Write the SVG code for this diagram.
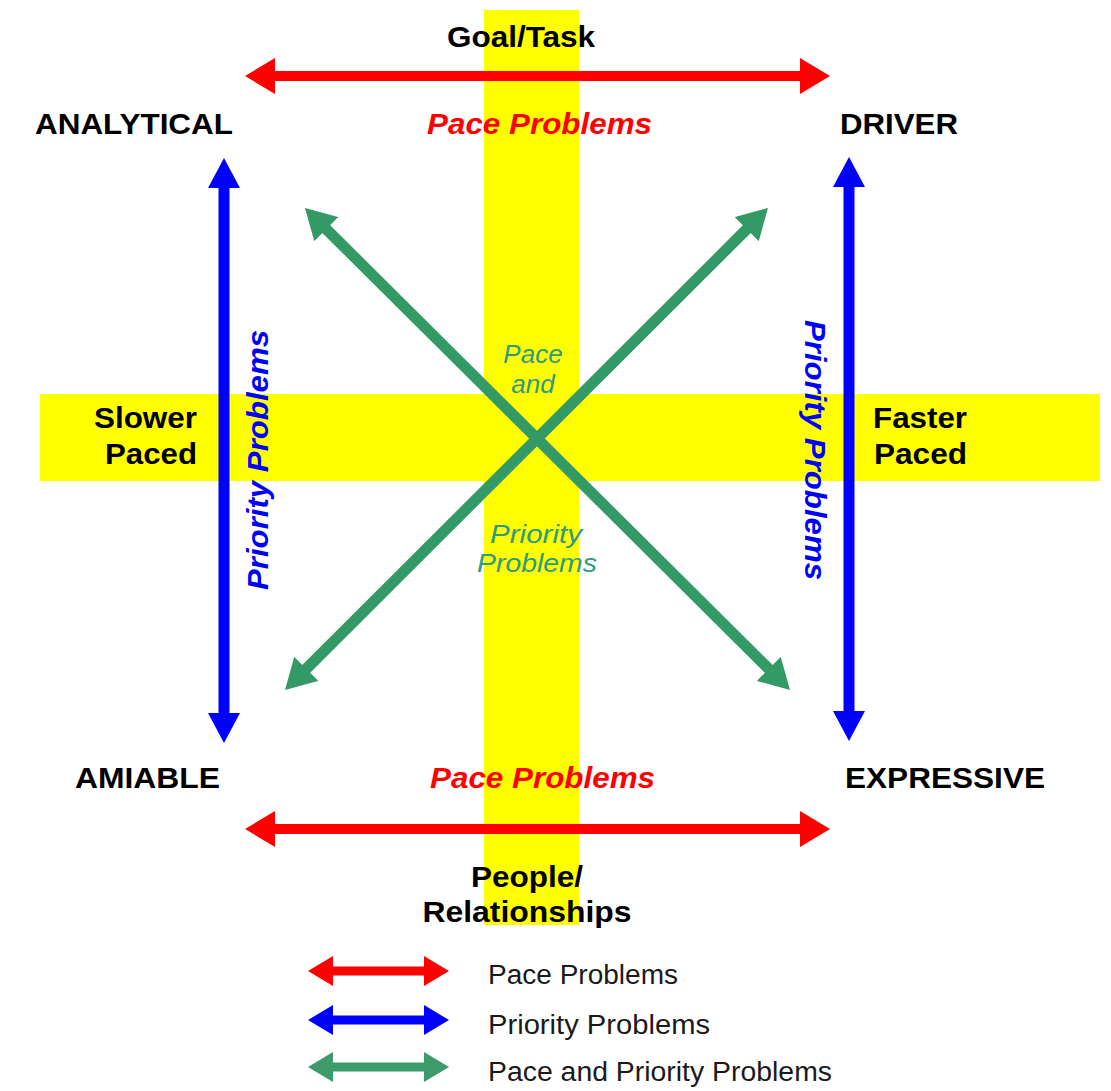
<svg xmlns="http://www.w3.org/2000/svg" width="1111" height="1091" viewBox="0 0 1111 1091">
  <style>
    .lbl { font-family: "Liberation Sans", Arial, sans-serif; font-weight: bold; font-size: 30px; fill: #000; }
    .pace { font-family: "Liberation Sans", Arial, sans-serif; font-weight: bold; font-style: italic; font-size: 30px; fill: #ff0000; }
    .prio { font-family: "Liberation Sans", Arial, sans-serif; font-weight: bold; font-style: italic; font-size: 30px; fill: #0000ff; }
    .both { font-family: "Liberation Sans", Arial, sans-serif; font-style: italic; font-size: 26px; fill: #2f9a80; }
    .leg { font-family: "Liberation Sans", Arial, sans-serif; font-size: 27px; fill: #1a1a1a; }
    .band { fill: #ffff00; }
    .red { stroke: #ff0000; stroke-width: 10; fill: none; }
    .blue { stroke: #0000ff; stroke-width: 11; fill: none; }
    .green { stroke: #339966; stroke-width: 11; fill: none; }
  </style>
  <defs>
    <marker id="hr" markerUnits="userSpaceOnUse" viewBox="0 0 30 36" markerWidth="30" markerHeight="36" refX="8" refY="18" orient="auto-start-reverse">
      <path d="M0,0 L30,18 L0,36 z" fill="#ff0000"/>
    </marker>
    <marker id="hb" markerUnits="userSpaceOnUse" viewBox="0 0 30 32" markerWidth="30" markerHeight="32" refX="8" refY="16" orient="auto-start-reverse">
      <path d="M0,0 L30,16 L0,32 z" fill="#0000ff"/>
    </marker>
    <marker id="hg" markerUnits="userSpaceOnUse" viewBox="0 0 30 34" markerWidth="30" markerHeight="34" refX="8" refY="17" orient="auto-start-reverse">
      <path d="M0,0 L30,17 L0,34 z" fill="#339966"/>
    </marker>
    <marker id="lr" markerUnits="userSpaceOnUse" viewBox="0 0 25 30" markerWidth="25" markerHeight="30" refX="7" refY="15" orient="auto-start-reverse">
      <path d="M0,0 L25,15 L0,30 z" fill="#ff0000"/>
    </marker>
    <marker id="lb" markerUnits="userSpaceOnUse" viewBox="0 0 25 30" markerWidth="25" markerHeight="30" refX="7" refY="15" orient="auto-start-reverse">
      <path d="M0,0 L25,15 L0,30 z" fill="#0000ff"/>
    </marker>
    <marker id="lg" markerUnits="userSpaceOnUse" viewBox="0 0 25 30" markerWidth="25" markerHeight="30" refX="7" refY="15" orient="auto-start-reverse">
      <path d="M0,0 L25,15 L0,30 z" fill="#3d9a6a"/>
    </marker>
  </defs>
  <rect width="1111" height="1091" fill="#ffffff"/>

  <g id="bands">
    <rect class="band" x="484" y="10" width="95" height="915"/>
    <rect class="band" x="40" y="394" width="1060" height="87"/>
  </g>

  <g id="connectors">
    <line class="red" x1="267" y1="76" x2="808" y2="76" marker-start="url(#hr)" marker-end="url(#hr)"/>
    <line class="red" x1="267" y1="829" x2="808" y2="829" marker-start="url(#hr)" marker-end="url(#hr)"/>
    <line class="blue" x1="224" y1="180" x2="224" y2="721" marker-start="url(#hb)" marker-end="url(#hb)"/>
    <line class="blue" x1="849" y1="179" x2="849" y2="719" marker-start="url(#hb)" marker-end="url(#hb)"/>
    <line class="green" x1="320.6" y1="223.5" x2="774.4" y2="674.5" marker-start="url(#hg)" marker-end="url(#hg)"/>
    <line class="green" x1="752.4" y1="223.5" x2="300.6" y2="674.5" marker-start="url(#hg)" marker-end="url(#hg)"/>
  </g>

  <g id="goal-task"><text class="lbl" x="447" y="47" textLength="148" lengthAdjust="spacingAndGlyphs">Goal/Task</text></g>
  <g id="analytical"><text class="lbl" x="35" y="134" textLength="198" lengthAdjust="spacingAndGlyphs">ANALYTICAL</text></g>
  <g id="driver"><text class="lbl" x="840" y="134" textLength="118" lengthAdjust="spacingAndGlyphs">DRIVER</text></g>
  <g id="pace-top"><text class="pace" x="427" y="134" textLength="225" lengthAdjust="spacingAndGlyphs">Pace Problems</text></g>
  <g id="slower-paced">
    <text class="lbl" x="197" y="428" text-anchor="end" textLength="103" lengthAdjust="spacingAndGlyphs">Slower</text>
    <text class="lbl" x="197" y="464" text-anchor="end" textLength="92" lengthAdjust="spacingAndGlyphs">Paced</text>
  </g>
  <g id="faster-paced">
    <text class="lbl" x="873" y="428" textLength="94" lengthAdjust="spacingAndGlyphs">Faster</text>
    <text class="lbl" x="874" y="464" textLength="93" lengthAdjust="spacingAndGlyphs">Paced</text>
  </g>
  <g id="priority-left"><text class="prio" transform="translate(268,460) rotate(-90)" text-anchor="middle" textLength="260" lengthAdjust="spacingAndGlyphs">Priority Problems</text></g>
  <g id="priority-right"><text class="prio" transform="translate(805,450) rotate(90)" text-anchor="middle" textLength="260" lengthAdjust="spacingAndGlyphs">Priority Problems</text></g>
  <g id="center-label">
    <text class="both" x="533" y="363" text-anchor="middle">Pace</text>
    <text class="both" x="533" y="393" text-anchor="middle">and</text>
    <text class="both" x="536" y="543" text-anchor="middle" textLength="92" lengthAdjust="spacingAndGlyphs">Priority</text>
    <text class="both" x="537" y="572" text-anchor="middle" textLength="120" lengthAdjust="spacingAndGlyphs">Problems</text>
  </g>
  <g id="amiable"><text class="lbl" x="75" y="788" textLength="145" lengthAdjust="spacingAndGlyphs">AMIABLE</text></g>
  <g id="expressive"><text class="lbl" x="845" y="788" textLength="200" lengthAdjust="spacingAndGlyphs">EXPRESSIVE</text></g>
  <g id="pace-bottom"><text class="pace" x="430" y="788" textLength="225" lengthAdjust="spacingAndGlyphs">Pace Problems</text></g>
  <g id="people">
    <text class="lbl" x="527" y="887" text-anchor="middle" textLength="112" lengthAdjust="spacingAndGlyphs">People/</text>
    <text class="lbl" x="527" y="922" text-anchor="middle" textLength="209" lengthAdjust="spacingAndGlyphs">Relationships</text>
  </g>

  <g id="legend">
    <line class="red" x1="326" y1="971" x2="431" y2="971" marker-start="url(#lr)" marker-end="url(#lr)" style="stroke-width:9"/>
    <line class="blue" x1="326" y1="1020" x2="431" y2="1020" marker-start="url(#lb)" marker-end="url(#lb)" style="stroke-width:9"/>
    <line class="green" x1="326" y1="1067" x2="431" y2="1067" marker-start="url(#lg)" marker-end="url(#lg)" style="stroke-width:9;stroke:#3d9a6a"/>
    <text class="leg" x="488" y="984" textLength="190" lengthAdjust="spacingAndGlyphs">Pace Problems</text>
    <text class="leg" x="488" y="1034" textLength="222" lengthAdjust="spacingAndGlyphs">Priority Problems</text>
    <text class="leg" x="488" y="1081" textLength="344" lengthAdjust="spacingAndGlyphs">Pace and Priority Problems</text>
  </g>
</svg>
